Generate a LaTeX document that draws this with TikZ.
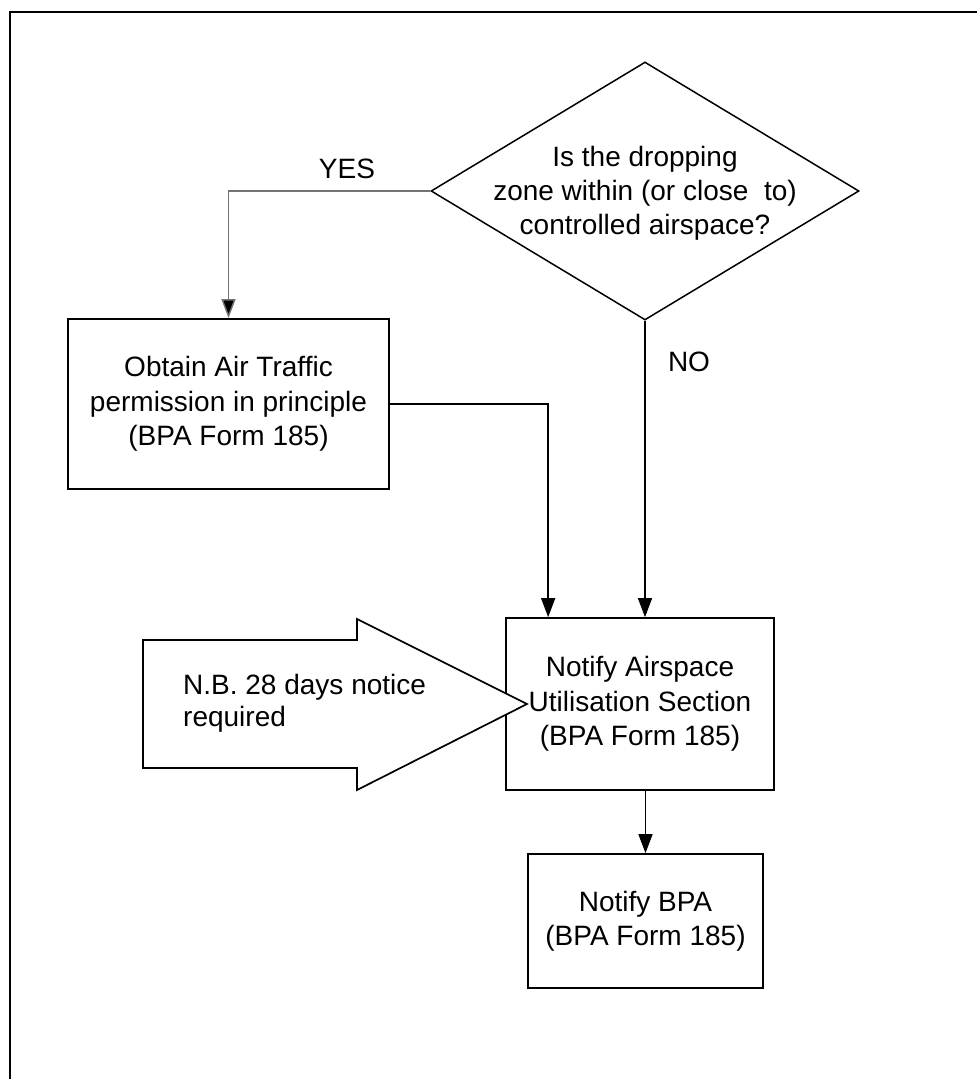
\documentclass[tikz,border=0pt]{standalone}
\usepackage{fontspec}
\setmainfont{Liberation Sans}
\usetikzlibrary{arrows.meta,shapes.geometric}
\begin{document}
\begin{tikzpicture}[x=1pt,y=-1pt,
  txt/.style={font=\fontsize{28}{34}\selectfont, align=center, inner sep=0pt},
  boxnode/.style={draw=black, line width=1.7pt, inner sep=0pt, font=\fontsize{28}{34.5}\selectfont, align=center},
  conn/.style={line width=1.4pt, -{Triangle[length=19pt,width=14pt]}},
  frameline/.style={line width=2.5pt}]
\useasboundingbox (0,0) rectangle (977,1079);
% frame (top and left edges only visible)
\draw[frameline] (977,12) -- (10,12) -- (10,1079);
% decision
\node[diamond, draw=black, line width=1.5pt, inner sep=0pt, minimum width=428pt, minimum height=258pt] (q) at (645,191) {};
\node[txt] (qt) at (645,193) {Is the dropping\\zone within (or close\ \ to)\\controlled airspace?};
% boxes
\node[boxnode, minimum width=321pt, minimum height=170pt] (b1) at (228.5,404) {Obtain Air Traffic\\permission in principle\\(BPA Form 185)};
\node[boxnode, minimum width=268pt, minimum height=172pt] (b2) at (640,704) {Notify Airspace\\Utilisation Section\\(BPA Form 185)};
\node[boxnode, minimum width=235pt, minimum height=134pt] (b3) at (645.5,921) {Notify BPA\\(BPA Form 185)};
% block arrow
\draw[line width=1.7pt, fill=white] (143,640) -- (357,640) -- (357,619) -- (527,704) -- (357,790) -- (357,768) -- (143,768) -- cycle;
\node[font=\fontsize{28}{32}\selectfont, align=left, inner sep=0pt, anchor=west] (nb) at (183,703) {N.B. 28 days notice\\required};
% labels
\node[txt] (yes) at (347,169) {YES};
\node[txt] (no) at (689,362) {NO};
% connectors
\draw[conn, draw=black!55, -{Triangle[length=19pt,width=14pt,fill=black]}] (q.west) -| (b1.north);
\draw[conn] (b1.east) -| ([xshift=43pt]b2.north west);
\draw[conn] (q.south) -- (q.south |- b2.north);
\draw[conn] (b2.south -| b3.north) -- (b3.north);
\end{tikzpicture}
\end{document}
